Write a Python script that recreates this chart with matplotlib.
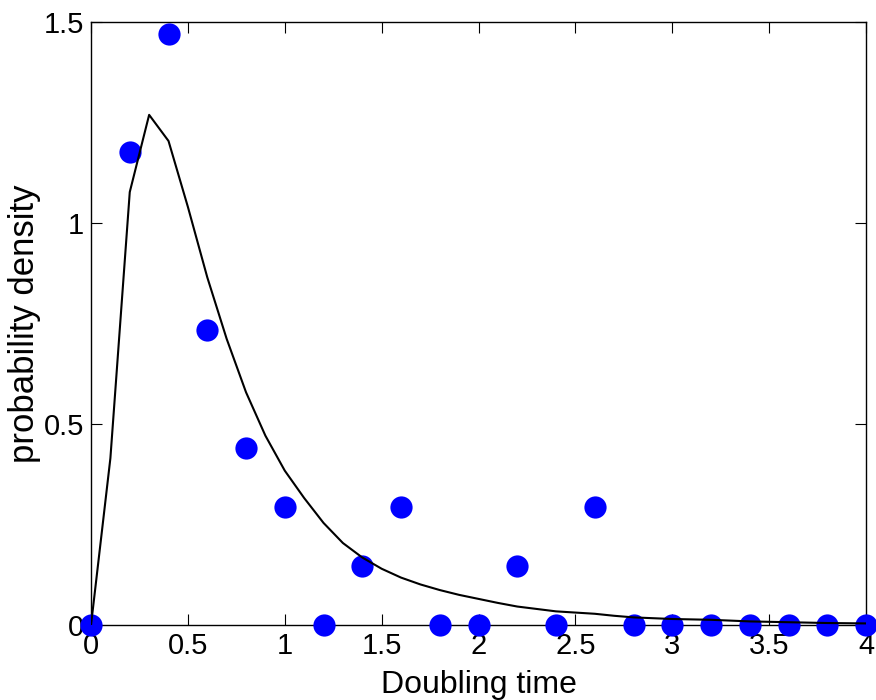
import numpy as np
import matplotlib.pyplot as plt

plt.rcParams["font.family"] = ["Liberation Sans", "DejaVu Sans"]

# histogram of doubling times (density, bin width 0.2)
bin_x = [0.0, 0.2, 0.4, 0.6, 0.8, 1.0, 1.2, 1.4, 1.6, 1.8, 2.0,
         2.2, 2.4, 2.6, 2.8, 3.0, 3.2, 3.4, 3.6, 3.8, 4.0]
density = [0.0, 1.176, 1.471, 0.735, 0.441, 0.294, 0.0, 0.147, 0.294, 0.0, 0.0,
           0.147, 0.0, 0.294, 0.0, 0.0, 0.0, 0.0, 0.0, 0.0, 0.0]

# fitted probability density
fit_x = [0.0, 0.1, 0.2, 0.3, 0.4, 0.5, 0.6, 0.7, 0.8, 0.9, 1.0,
         1.1, 1.2, 1.3, 1.4, 1.5, 1.6, 1.7, 1.8, 1.9, 2.0,
         2.1, 2.2, 2.3, 2.4, 2.5, 2.6, 2.7, 2.8, 2.9, 3.0,
         3.1, 3.2, 3.3, 3.4, 3.5, 3.6, 3.7, 3.8, 3.9, 4.0]
fit_y = [0.0, 0.415, 1.077, 1.269, 1.204, 1.04, 0.865, 0.712, 0.579, 0.471, 0.384,
         0.316, 0.254, 0.204, 0.168, 0.14, 0.118, 0.101, 0.087, 0.075, 0.065,
         0.055, 0.046, 0.04, 0.034, 0.031, 0.028, 0.023, 0.019, 0.017, 0.015,
         0.014, 0.013, 0.011, 0.009, 0.008, 0.007, 0.006, 0.005, 0.0045, 0.004]

fig = plt.figure(figsize=(8.76, 7.0), dpi=100)
ax = fig.add_axes([0.1039, 0.1071, 0.8847, 0.8615])

ax.plot(bin_x, density, "o", color="#0000ff", markersize=16,
        markeredgewidth=0, clip_on=False, zorder=3)
ax.plot(fit_x, fit_y, "-", color="black", linewidth=1.5, zorder=4)

ax.set_xlim(0, 4)
ax.set_ylim(0, 1.5)
ax.set_xticks(np.arange(0, 4.01, 0.5))
ax.set_xticklabels(["0", "0.5", "1", "1.5", "2", "2.5", "3", "3.5", "4"])
ax.set_yticks([0, 0.5, 1, 1.5])
ax.set_yticklabels(["0", "0.5", "1", "1.5"])
ax.tick_params(direction="in", length=8, width=0.8, labelsize=21,
               top=True, right=True, pad=5)
for s in ax.spines.values():
    s.set_linewidth(1.0)

ax.set_xlabel("Doubling time", fontsize=23, labelpad=7)
ax.set_ylabel("probability density", fontsize=25, labelpad=2)

fig.savefig("out.png", dpi=100)
